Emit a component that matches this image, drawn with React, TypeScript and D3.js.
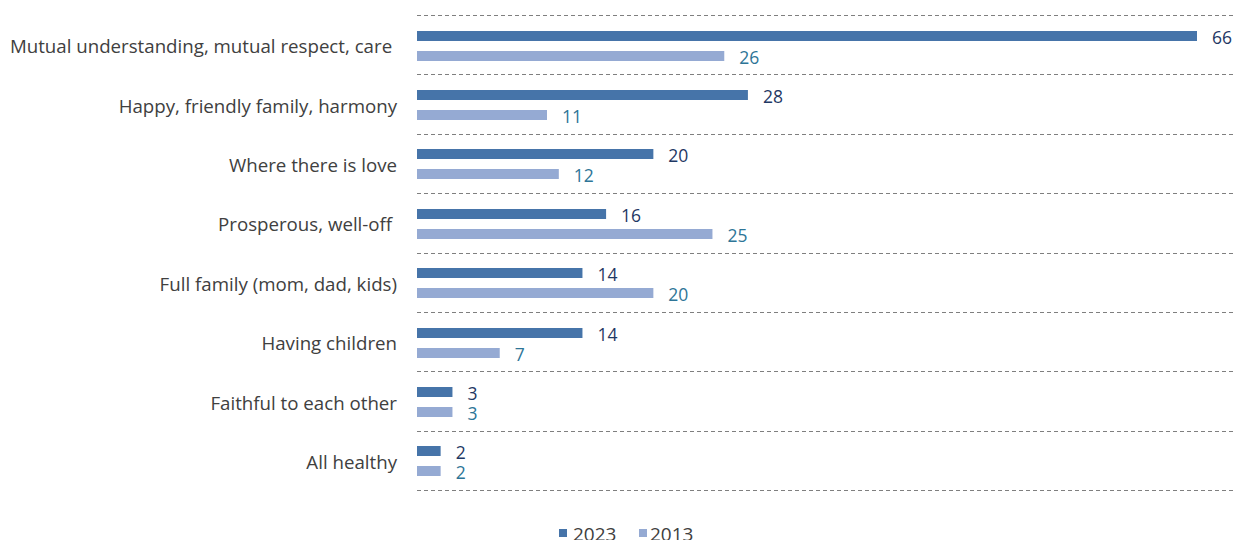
import React from "react";
import * as d3 from "d3";

const categories = [
  "Mutual understanding, mutual respect, care ",
  "Happy, friendly family, harmony",
  "Where there is love",
  "Prosperous, well-off ",
  "Full family (mom, dad, kids)",
  "Having children",
  "Faithful to each other",
  "All healthy",
];
const values2023 = [66, 28, 20, 16, 14, 14, 3, 2];
const values2013 = [26, 11, 12, 25, 20, 7, 3, 2];
const seriesNames = ["2023", "2013"];

const W = 1234;
const H = 540;
const FONT = "'Open Sans', 'Noto Sans', sans-serif";

export default function App() {
  const x = d3.scaleLinear().domain([0, 66]).range([417, 1197]);
  const y = d3.scaleBand<string>().domain(categories).range([15, 490]).padding(0);
  const bw = y.bandwidth();
  const barH = 10;
  const colors = ["#4674a9", "#95aad3"];
  const labelColors = ["#1f3864", "#2e7597"];
  const gridYs = [...categories.map((c) => y(c) as number), 490];

  return (
    <svg width={W} height={H} style={{ position: "absolute", left: 0, top: 0 }} fontFamily={FONT}>
      <rect width={W} height={H} fill="#fff" />
      {gridYs.map((gy, i) => (
        <line key={i} x1={417} x2={1234} y1={Math.round(gy) + 0.5} y2={Math.round(gy) + 0.5} stroke="#7f7f7f" strokeWidth={1} strokeDasharray="4,3" />
      ))}
      {categories.map((c, i) => {
        const y0 = y(c) as number;
        const y1 = Math.round(y0 + bw / 2 - 14);
        const y2 = y1 + 20;
        return (
          <g key={c}>
            <text x={397} y={y0 + bw / 2 + 8.6} textAnchor="end" fontSize={18.7} fill="#404040" style={{ whiteSpace: "pre" }}>
              {c}
            </text>
            <rect x={x(0)} y={y1} width={x(values2023[i]) - x(0)} height={barH} fill={colors[0]} />
            <rect x={x(0)} y={y2} width={x(values2013[i]) - x(0)} height={barH} fill={colors[1]} />
            <text x={x(values2023[i]) + 15} y={y1 + barH / 2 + 8} fontSize={17.5} fill={labelColors[0]}>
              {values2023[i]}
            </text>
            <text x={x(values2013[i]) + 15} y={y2 + barH / 2 + 8} fontSize={17.5} fill={labelColors[1]}>
              {values2013[i]}
            </text>
          </g>
        );
      })}
      <g>
        <rect x={559} y={529} width={8} height={8} fill={colors[0]} />
        <text x={573} y={541} fontSize={19} fill="#404040">{seriesNames[0]}</text>
        <rect x={639} y={529} width={8} height={8} fill={colors[1]} />
        <text x={650} y={541} fontSize={19} fill="#404040">{seriesNames[1]}</text>
      </g>
    </svg>
  );
}
